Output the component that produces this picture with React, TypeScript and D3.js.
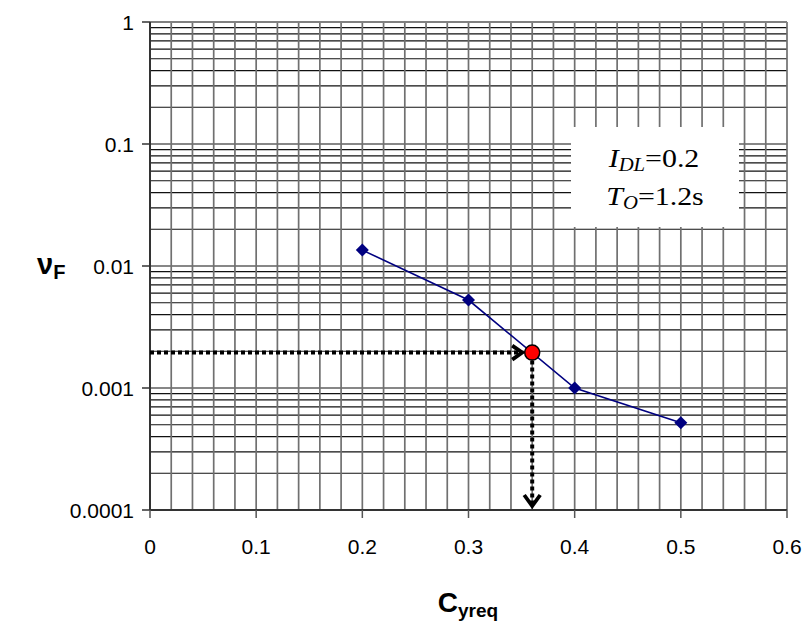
import React from "react";
import * as d3 from "d3";

const xValues = [0.2, 0.3, 0.4, 0.5];
const yValues = [0.0135, 0.00526, 0.001, 0.00052];
const pointX = 0.36;
const pointY = 0.00195;
const xTicks = [0, 0.1, 0.2, 0.3, 0.4, 0.5, 0.6];
const yTicks = [1, 0.1, 0.01, 0.001, 0.0001];
const yTickLabels = ["1", "0.1", "0.01", "0.001", "0.0001"];

const W = 809;
const H = 626;
const left = 150, right = 787, top = 22, bottom = 510;

export default function App() {
  const x = d3.scaleLinear().domain([0, 0.6]).range([left, right]);
  const y = d3.scaleLog().domain([0.0001, 1]).range([bottom, top]);

  const vGrid = d3.range(0, 31).map((i) => i * 0.02);
  const hGrid: number[] = [];
  for (let e = -4; e < 0; e++) {
    for (let m = 1; m <= 9; m++) hGrid.push(m * Math.pow(10, e));
  }
  hGrid.push(1);

  const line = d3
    .line<number>()
    .x((_, i) => x(xValues[i]))
    .y((d) => y(d));

  const px = x(pointX);
  const py = y(pointY);
  const yb = y(0.0001);

  const dm = 6.5;
  const diamond = `M0,${-dm}L${dm},0L0,${dm}L${-dm},0Z`;
  const serif = "'Liberation Serif', 'Times New Roman', serif";
  const sans = "'Liberation Sans', Arial, sans-serif";

  return (
    <svg width={W} height={H} style={{ position: "absolute", left: 0, top: 0, background: "#fff" }}>
      {hGrid.map((v, i) => (
        <line key={"h" + i} x1={left} x2={right} y1={y(v)} y2={y(v)} stroke="#111" strokeWidth={1.2} />
      ))}
      {vGrid.map((v, i) => (
        <line key={"v" + i} x1={x(v)} x2={x(v)} y1={top} y2={bottom} stroke="#707070" strokeWidth={1.7} />
      ))}
      <line x1={left} x2={right} y1={top} y2={top} stroke="#808080" strokeWidth={2} />
      <rect x={571} y={127} width={168} height={100} fill="#fff" />
      <g transform="translate(654,167) scale(1.15,1)">
        <text x={0} y={0} textAnchor="middle" fontFamily={serif} fontSize={26} fontStyle="italic">
          I<tspan fontSize={18} dy={4}>DL</tspan>
          <tspan fontStyle="normal" dy={-4}>=0.2</tspan>
        </text>
      </g>
      <g transform="translate(655,205) scale(1.15,1)">
        <text x={0} y={0} textAnchor="middle" fontFamily={serif} fontSize={26} fontStyle="italic">
          T<tspan fontSize={18} dy={4}>O</tspan>
          <tspan fontStyle="normal" dy={-4}>=1.2s</tspan>
        </text>
      </g>
      <line x1={left} x2={left} y1={top} y2={bottom} stroke="#333" strokeWidth={2} />
      <line x1={left} x2={right} y1={bottom} y2={bottom} stroke="#333" strokeWidth={2} />
      {yTicks.map((v, i) => (
        <g key={"yt" + i}>
          <line x1={left - 8} x2={left} y1={y(v)} y2={y(v)} stroke="#333" strokeWidth={1.5} />
          <text x={left - 16} y={y(v)} dy="0.36em" textAnchor="end" fontFamily={sans} fontSize={21}>
            {yTickLabels[i]}
          </text>
        </g>
      ))}
      {xTicks.map((v, i) => (
        <g key={"xt" + i}>
          <line x1={x(v)} x2={x(v)} y1={bottom} y2={bottom + 8} stroke="#555" strokeWidth={1.5} />
          <text x={x(v)} y={bottom + 44} textAnchor="middle" fontFamily={sans} fontSize={21}>
            {String(v)}
          </text>
        </g>
      ))}
      <text x={468} y={612} textAnchor="middle" fontFamily={sans} fontWeight="bold" fontSize={28}>
        C<tspan fontSize={19} dy={5}>yreq</tspan>
      </text>
      <text x={37} y={274} fontFamily={sans} fontWeight="bold" fontSize={29}>
        ν<tspan fontSize={20} dy={5}>F</tspan>
      </text>
      <path d={line(yValues) || ""} fill="none" stroke="#000080" strokeWidth={1.6} />
      {yValues.map((v, i) => (
        <path key={"m" + i} d={diamond} transform={`translate(${x(xValues[i])},${y(v)})`} fill="#000080" />
      ))}
      <line x1={x(0)} x2={px - 12} y1={py} y2={py} stroke="#000" strokeWidth={4} strokeDasharray="4 3" />
      <path d={`M${px - 20},${py - 7} L${px - 10},${py} L${px - 20},${py + 7}`} fill="none" stroke="#000" strokeWidth={3.8} />
      <line x1={px} x2={px} y1={py + 8} y2={yb - 4} stroke="#000" strokeWidth={4} strokeDasharray="4 3" />
      <path d={`M${px - 8},${yb - 15} L${px},${yb - 4} L${px + 8},${yb - 15}`} fill="none" stroke="#000" strokeWidth={3.8} />
      <circle cx={px} cy={py} r={7.5} fill="#ff0000" stroke="#000" strokeWidth={1.5} />
    </svg>
  );
}
